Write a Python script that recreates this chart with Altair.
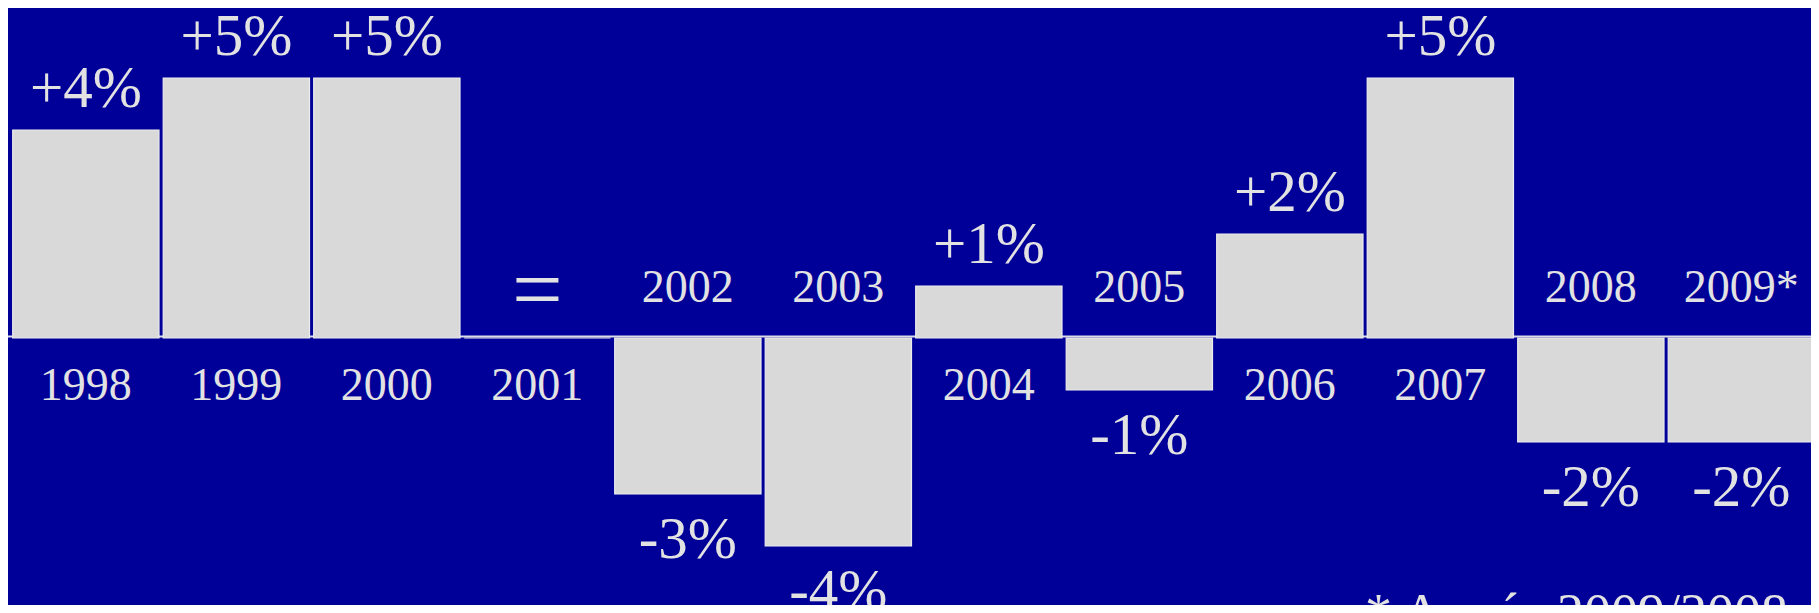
import altair as alt
import pandas as pd

years = ["1998", "1999", "2000", "2001", "2002", "2003", "2004", "2005", "2006", "2007", "2008", "2009*"]
values = [4, 5, 5, 0, -3, -4, 1, -1, 2, 5, -2, -2]
labels = ["+4%", "+5%", "+5%", "=", "-3%", "-4%", "+1%", "-1%", "+2%", "+5%", "-2%", "-2%"]
footnote = "* Année 2009/2008"

df = pd.DataFrame({"year": years, "value": values, "label": labels})

BG = "#000099"
FG = "#E2E2E2"
BAR = "#D9D9D9"
FONT = "Liberation Serif"

xs = alt.X("year:N", sort=years, axis=None,
           scale=alt.Scale(range=[2.6, 1808.6], paddingInner=0.028, paddingOuter=0.014))
ys = alt.Scale(domain=[-5, 5], range=[590, 70])

base = alt.Chart(df)

rule = base.mark_rule(color="#DCDCE8", strokeWidth=2, yOffset=-1.5).encode(
    y=alt.Y("z:Q", scale=ys, axis=None)
).transform_calculate(z="0").transform_filter("datum.year == '1998'")

bars = base.mark_bar(color=BAR, stroke="#ECECEC", strokeWidth=1.2).encode(
    x=xs,
    y=alt.Y("value:Q", scale=ys, axis=None),
    y2=alt.datum(0),
)

year_pos = base.transform_filter("datum.value >= 0").mark_text(
    font=FONT, fontSize=46, color=FG, baseline="alphabetic", dy=62
).encode(x=xs, y=alt.datum(0), text="year:N")

year_neg = base.transform_filter("datum.value < 0").mark_text(
    font=FONT, fontSize=46, color=FG, baseline="alphabetic", dy=-36
).encode(x=xs, y=alt.datum(0), text="year:N")

val_pos = base.transform_filter("datum.value > 0").mark_text(
    font=FONT, fontSize=59, color=FG, baseline="alphabetic", dy=-23
).encode(x=xs, y=alt.Y("value:Q", scale=ys), text="label:N")

val_neg = base.transform_filter("datum.value < 0").mark_text(
    font=FONT, fontSize=59, color=FG, baseline="alphabetic", dy=64
).encode(x=xs, y=alt.Y("value:Q", scale=ys), text="label:N")

val_zero = base.transform_filter("datum.value == 0").mark_text(
    font=FONT, fontSize=90, color=FG, baseline="alphabetic", dy=-18
).encode(x=xs, y=alt.Y("value:Q", scale=ys), text="label:N")

note = alt.Chart(pd.DataFrame({"t": [footnote]})).mark_text(
    font=FONT, fontSize=54, color=FG, align="right", baseline="alphabetic"
).encode(x=alt.value(1780), y=alt.value(623), text="t:N")

chart = alt.layer(rule, bars, year_pos, year_neg, val_pos, val_neg, val_zero, note).properties(
    width=1803, height=597, background=BG, padding=0,
    autosize=alt.AutoSizeParams(type="none"),
).configure_view(stroke=None)

chart.save("out.html", embed_options={"renderer": "svg", "actions": False})
